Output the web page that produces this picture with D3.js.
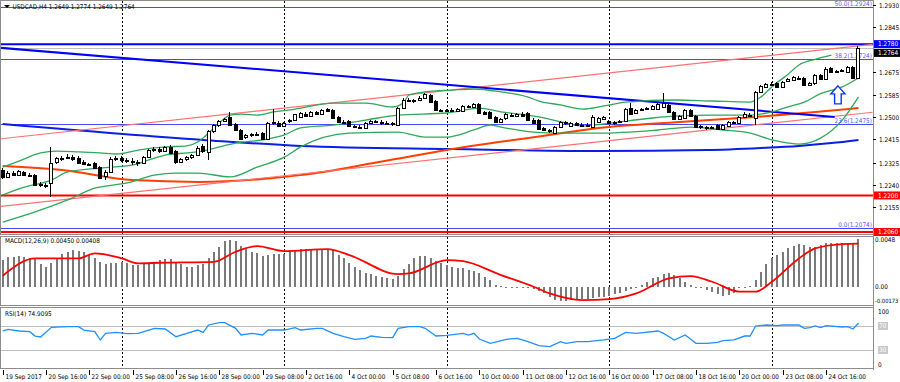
<!DOCTYPE html>
<html><head><meta charset="utf-8">
<script src="https://cdn.jsdelivr.net/npm/d3@7"></script>
<style>
html,body{margin:0;padding:0;background:#fff;}
svg{display:block;font-family:"DejaVu Sans Condensed","DejaVu Sans",sans-serif;}
</style></head><body>
<svg id="c" width="900" height="382"></svg>
<script>
// ---------------- DATA ----------------
const headerText = "USDCAD,H4  1.2649 1.2774 1.2649 1.2764";
const macdTitle = "MACD(12,26,9) 0.00450 0.00408";
const rsiTitle = "RSI(14) 74.9095";

const openP = [1.2298,1.2271,1.2286,1.2278,1.2290,1.2280,1.2278,1.2244,1.2242,1.2248,
 1.2330,1.2342,1.2345,1.2348,1.2344,1.2330,1.2320,1.2324,1.2309,1.2275,
 1.2290,1.2340,1.2344,1.2336,1.2334,1.2330,1.2324,1.2347,1.2374,1.2378,
 1.2372,1.2386,1.2370,1.2330,1.2338,1.2346,1.2355,1.2390,1.2366,1.2447,
 1.2470,1.2485,1.2501,1.2474,1.2451,1.2424,1.2430,1.2436,1.2438,1.2418,
 1.2478,1.2478,1.2468,1.2484,1.2490,1.2500,1.2512,1.2506,1.2518,1.2514,
 1.2530,1.2526,1.2499,1.2482,1.2486,1.2466,1.2464,1.2458,1.2478,1.2484,
 1.2482,1.2478,1.2476,1.2470,1.2535,1.2566,1.2562,1.2566,1.2574,1.2585,
 1.2562,1.2528,1.2524,1.2528,1.2524,1.2524,1.2543,1.2539,1.2551,1.2518,
 1.2520,1.2501,1.2482,1.2495,1.2510,1.2506,1.2514,1.2516,1.2491,1.2489,
 1.2458,1.2451,1.2441,1.2462,1.2480,1.2466,1.2476,1.2472,1.2468,1.2462,
 1.2482,1.2493,1.2486,1.2478,1.2480,1.2486,1.2537,1.2516,1.2528,1.2532,
 1.2530,1.2532,1.2539,1.2547,1.2520,1.2493,1.2497,1.2528,1.2505,1.2466,
 1.2462,1.2459,1.2470,1.2455,1.2468,1.2480,1.2478,1.2501,1.2510,1.2497,
 1.2597,1.2616,1.2628,1.2631,1.2616,1.2639,1.2643,1.2650,1.2650,1.2624,
 1.2631,1.2660,1.2645,1.2689,1.2676,1.2678,1.2673,1.2692,1.2649];
const highP = [1.2305,1.2292,1.2292,1.2298,1.2294,1.2286,1.2282,1.2250,1.2248,1.2386,
 1.2348,1.2352,1.2358,1.2354,1.2350,1.2336,1.2326,1.2328,1.2312,1.2296,
 1.2346,1.2352,1.2350,1.2342,1.2344,1.2336,1.2352,1.2378,1.2386,1.2384,
 1.2390,1.2392,1.2374,1.2342,1.2350,1.2360,1.2388,1.2396,1.2451,1.2474,
 1.2490,1.2497,1.2520,1.2478,1.2455,1.2436,1.2440,1.2442,1.2442,1.2482,
 1.2532,1.2484,1.2482,1.2494,1.2514,1.2520,1.2518,1.2522,1.2522,1.2532,
 1.2536,1.2530,1.2503,1.2488,1.2490,1.2472,1.2470,1.2480,1.2488,1.2490,
 1.2488,1.2484,1.2482,1.2540,1.2572,1.2572,1.2570,1.2580,1.2593,1.2590,
 1.2566,1.2532,1.2532,1.2534,1.2534,1.2548,1.2548,1.2556,1.2555,1.2524,
 1.2524,1.2505,1.2497,1.2516,1.2516,1.2516,1.2518,1.2520,1.2495,1.2493,
 1.2462,1.2456,1.2466,1.2486,1.2486,1.2482,1.2482,1.2478,1.2476,1.2509,
 1.2501,1.2505,1.2490,1.2484,1.2490,1.2536,1.2556,1.2532,1.2536,1.2540,
 1.2545,1.2555,1.2593,1.2551,1.2524,1.2509,1.2532,1.2532,1.2509,1.2470,
 1.2468,1.2468,1.2474,1.2474,1.2484,1.2486,1.2505,1.2518,1.2516,1.2601,
 1.2624,1.2632,1.2634,1.2635,1.2639,1.2651,1.2658,1.2658,1.2654,1.2635,
 1.2666,1.2666,1.2693,1.2693,1.2682,1.2684,1.2696,1.2697,1.2774];
const lowP = [1.2265,1.2266,1.2276,1.2274,1.2276,1.2272,1.2236,1.2232,1.2228,1.2194,
 1.2322,1.2334,1.2338,1.2334,1.2322,1.2316,1.2312,1.2300,1.2262,1.2258,
 1.2286,1.2334,1.2328,1.2326,1.2318,1.2314,1.2320,1.2344,1.2368,1.2364,
 1.2368,1.2360,1.2322,1.2324,1.2332,1.2340,1.2350,1.2364,1.2336,1.2440,
 1.2464,1.2480,1.2468,1.2447,1.2412,1.2418,1.2426,1.2428,1.2412,1.2414,
 1.2470,1.2462,1.2464,1.2478,1.2486,1.2496,1.2500,1.2502,1.2508,1.2510,
 1.2520,1.2493,1.2478,1.2476,1.2464,1.2458,1.2454,1.2454,1.2474,1.2476,
 1.2472,1.2470,1.2468,1.2466,1.2530,1.2558,1.2556,1.2562,1.2570,1.2555,
 1.2524,1.2518,1.2518,1.2518,1.2520,1.2520,1.2534,1.2535,1.2512,1.2510,
 1.2493,1.2478,1.2478,1.2491,1.2502,1.2502,1.2501,1.2485,1.2474,1.2451,
 1.2446,1.2440,1.2436,1.2458,1.2472,1.2462,1.2468,1.2464,1.2462,1.2458,
 1.2478,1.2488,1.2474,1.2472,1.2476,1.2482,1.2510,1.2512,1.2522,1.2526,
 1.2526,1.2528,1.2535,1.2516,1.2489,1.2489,1.2493,1.2501,1.2458,1.2455,
 1.2452,1.2454,1.2450,1.2450,1.2464,1.2474,1.2474,1.2497,1.2502,1.2470,
 1.2593,1.2612,1.2620,1.2612,1.2612,1.2635,1.2639,1.2646,1.2620,1.2620,
 1.2624,1.2643,1.2641,1.2670,1.2670,1.2672,1.2669,1.2645,1.2649];
const closeP = [1.2271,1.2286,1.2280,1.2292,1.2280,1.2278,1.2240,1.2240,1.2236,1.2324,
 1.2342,1.2345,1.2348,1.2340,1.2326,1.2320,1.2318,1.2305,1.2267,1.2290,
 1.2340,1.2344,1.2336,1.2334,1.2330,1.2325,1.2347,1.2374,1.2378,1.2372,
 1.2384,1.2364,1.2328,1.2338,1.2346,1.2355,1.2382,1.2370,1.2447,1.2470,
 1.2485,1.2493,1.2470,1.2451,1.2416,1.2432,1.2436,1.2434,1.2416,1.2478,
 1.2482,1.2466,1.2478,1.2490,1.2512,1.2516,1.2506,1.2518,1.2514,1.2528,
 1.2524,1.2497,1.2482,1.2480,1.2468,1.2464,1.2460,1.2476,1.2484,1.2482,
 1.2478,1.2476,1.2474,1.2535,1.2566,1.2562,1.2566,1.2574,1.2589,1.2559,
 1.2528,1.2522,1.2528,1.2524,1.2530,1.2543,1.2539,1.2551,1.2516,1.2514,
 1.2497,1.2482,1.2493,1.2512,1.2506,1.2512,1.2505,1.2489,1.2478,1.2455,
 1.2450,1.2449,1.2462,1.2482,1.2476,1.2478,1.2472,1.2470,1.2470,1.2501,
 1.2497,1.2501,1.2478,1.2480,1.2484,1.2532,1.2514,1.2528,1.2532,1.2535,
 1.2541,1.2551,1.2556,1.2520,1.2493,1.2505,1.2528,1.2505,1.2462,1.2462,
 1.2459,1.2462,1.2455,1.2470,1.2480,1.2482,1.2501,1.2514,1.2506,1.2597,
 1.2620,1.2628,1.2625,1.2616,1.2635,1.2647,1.2654,1.2652,1.2624,1.2631,
 1.2662,1.2647,1.2686,1.2674,1.2678,1.2679,1.2692,1.2649,1.2764];

// Bollinger bands (bar, price)
const bbUpper = [[0,1.2309],[3,1.2332],[7,1.2363],[10,1.2370],[14,1.2367],[18,1.2363],[21,1.2359],[25,1.2374],[30,1.2386],[34,1.2390],[36,1.2405],[38,1.2439],[40,1.2478],[42,1.2508],[44,1.2512],[47,1.2508],[50,1.2520],[53,1.2528],[55,1.2535],[61,1.2554],[67,1.2554],[72,1.2539],[74,1.2555],[75,1.2585],[78,1.2597],[83,1.2604],[87,1.2608],[92,1.2597],[97,1.2577],[99,1.2562],[103,1.2547],[107,1.2531],[111,1.2543],[115,1.2558],[124,1.2566],[131,1.2562],[138,1.2558],[140,1.2578],[142,1.2616],[145,1.2665],[147,1.2700],[150,1.2722],[153,1.2738]];
const bbMiddle = [[0,1.2202],[4,1.2232],[9,1.2259],[12,1.2290],[18,1.2305],[24,1.2317],[27,1.2336],[30,1.2355],[34,1.2363],[36,1.2367],[40,1.2386],[43,1.2401],[48,1.2413],[52,1.2432],[55,1.2459],[61,1.2470],[67,1.2489],[73,1.2508],[82,1.2516],[88,1.2535],[92,1.2520],[97,1.2508],[99,1.2501],[103,1.2482],[107,1.2466],[111,1.2474],[115,1.2485],[120,1.2497],[125,1.2505],[131,1.2508],[138,1.2508],[142,1.2520],[145,1.2540],[148,1.2558],[151,1.2590],[155,1.2616],[158,1.2650]];
const bbLower = [[0,1.2098],[6,1.2137],[12,1.2183],[17,1.2228],[23,1.2248],[28,1.2278],[32,1.2286],[36,1.2286],[42,1.2271],[47,1.2309],[52,1.2347],[55,1.2386],[64,1.2439],[73,1.2443],[78,1.2424],[82,1.2424],[87,1.2451],[90,1.2470],[92,1.2462],[98,1.2443],[103,1.2439],[110,1.2439],[121,1.2451],[127,1.2462],[133,1.2451],[138,1.2439],[142,1.2413],[145,1.2401],[147,1.2397],[151,1.2420],[155,1.2489],[158,1.2578]];
// long moving averages (bar, price)
const maOrange = [[0,1.2313],[11,1.2298],[24,1.2259],[36,1.2252],[55,1.2278],[70,1.2330],[83,1.2378],[99,1.2426],[110,1.2459],[125,1.2482],[139,1.2501],[158,1.2535]];
const maBlue = [[0,1.2474],[37,1.2413],[55,1.2390],[83,1.2378],[110,1.2370],[130,1.2374],[140,1.2382],[147,1.2390],[153,1.2401],[158,1.2413]];

// MACD histogram per bar and signal line samples
const macdMain = [0.00252,0.00277,0.00284,0.00293,0.00284,0.00274,0.00258,0.00214,0.00189,0.00227,
 0.00258,0.00306,0.00331,0.00343,0.00340,0.00331,0.00299,0.00274,0.00236,0.00214,
 0.00221,0.00227,0.00230,0.00227,0.00205,0.00205,0.00211,0.00227,0.00236,0.00252,
 0.00258,0.00258,0.00236,0.00211,0.00189,0.00189,0.00205,0.00211,0.00268,0.00324,
 0.00378,0.00432,0.00441,0.00432,0.00387,0.00356,0.00331,0.00315,0.00293,0.00299,
 0.00306,0.00306,0.00306,0.00347,0.00347,0.00353,0.00353,0.00353,0.00353,0.00353,
 0.00356,0.00347,0.00299,0.00268,0.00227,0.00189,0.00158,0.00132,0.00120,0.00104,
 0.00095,0.00079,0.00069,0.00101,0.00164,0.00211,0.00268,0.00290,0.00290,0.00268,
 0.00243,0.00221,0.00205,0.00189,0.00173,0.00173,0.00158,0.00151,0.00126,0.00088,
 0.00063,0.00016,0.00006,-0.00006,0.00000,-0.00006,-0.00009,-0.00016,-0.00025,-0.00041,
 -0.00063,-0.00095,-0.00126,-0.00135,-0.00132,-0.00126,-0.00117,-0.00117,-0.00117,-0.00110,
 -0.00101,-0.00095,-0.00088,-0.00072,-0.00057,-0.00038,-0.00022,-0.00003,0.00016,0.00047,
 0.00079,0.00095,0.00117,0.00126,0.00110,0.00079,0.00047,0.00016,0.00000,-0.00016,
 -0.00032,-0.00047,-0.00069,-0.00085,-0.00079,-0.00063,-0.00016,-0.00009,0.00006,0.00063,
 0.00142,0.00211,0.00268,0.00299,0.00331,0.00369,0.00387,0.00403,0.00394,0.00378,
 0.00378,0.00394,0.00410,0.00410,0.00410,0.00410,0.00403,0.00403,0.00450];
const macdSignal = [[0,0.00104],[6,0.00268],[14,0.00268],[17,0.00315],[22,0.00268],[25,0.00221],[29,0.00227],[39,0.00236],[43,0.00331],[47,0.00384],[52,0.00337],[60,0.00356],[64,0.00299],[73,0.00120],[75,0.00126],[82,0.00252],[85,0.00243],[92,0.00110],[98,0.00000],[101,-0.00063],[107,-0.00126],[112,-0.00117],[117,-0.00063],[123,0.00079],[127,0.00101],[131,0.00047],[136,-0.00047],[139,-0.00047],[142,0.00047],[147,0.00268],[150,0.00362],[155,0.00403],[158,0.00408]];
const rsiLine = [[0,61.7],[1,64.4],[3,61.7],[5,60.6],[6,53.3],[7,51.7],[9,67.8],[12,68.9],[14,68.9],[15,63.3],[17,60.6],[18,46.7],[19,57.8],[21,59.4],[23,57.2],[25,57.8],[27,63.3],[28,66.1],[30,65],[32,52.2],[34,57.8],[36,63.3],[37,59.4],[38,71.7],[40,75.6],[41,75.6],[43,66.1],[44,55],[46,57.8],[48,55],[49,63.3],[52,63.3],[54,67.2],[55,63.3],[58,66.1],[59,66.1],[61,57.8],[63,52.2],[65,47.8],[67,49.4],[68,53.3],[70,51.1],[72,50.6],[73,66.1],[75,68.9],[77,68.9],[78,66.1],[80,53.3],[82,54.5],[85,57.8],[86,55],[87,57.8],[88,48.3],[90,41.1],[93,47.8],[95,49.4],[97,43.9],[99,37.2],[101,35.6],[103,43.9],[104,41.1],[106,43.9],[108,43.9],[111,46.7],[112,48.3],[113,49.4],[115,59.4],[117,57.8],[121,61.7],[122,57.8],[124,46.7],[126,55],[128,41.1],[130,41.1],[132,42.8],[133,45.6],[135,46.7],[137,53.3],[138,53.3],[139,70],[141,71.7],[143,70.6],[144,71.7],[147,71.7],[148,66.1],[149,67.2],[150,70],[151,67.2],[152,70.6],[155,68.3],[156,68.9],[157,65],[158,74.9]];

// time axis
const timeLabels = ["19 Sep 2017","20 Sep 16:00","22 Sep 00:00","25 Sep 08:00","26 Sep 16:00","28 Sep 00:00","29 Sep 08:00","2 Oct 16:00","4 Oct 00:00","5 Oct 08:00","6 Oct 16:00","10 Oct 00:00","11 Oct 08:00","12 Oct 16:00","16 Oct 00:00","17 Oct 08:00","18 Oct 16:00","20 Oct 00:00","23 Oct 08:00","24 Oct 16:00"];
const timeLabelBars = [0,8,16,24,32,40,48,56,64,72,80,88,96,104,112,120,128,136,144,152];
const weekSeparatorBars = [22,52,82,112,142];
const priceTicks = [1.2930,1.2845,1.2675,1.2585,1.2500,1.2415,1.2325,1.2240,1.2155];
const macdTicks = [0.0048,0.00,-0.00173];
const macdTickLabels = ["0.0048","0.00","-0.00173"];
const rsiLevels = [70,30];

// objects
const fiboLevels = ["0.0","23.6","38.2","50.0"];
const fiboPrices = [1.2074,1.2475,1.2724,1.2924];
const hLinePrices = [1.2780,1.2200,1.2060];
const hLineColors = ["#0000ff","#ff0000","#ff0000"];
const bidPrice = 1.2764;
const blueTrend = [[-0.5,1.2766],[153.6,1.2501]];
const channelUpper = [[-0.5,1.2417],[160.6,1.2779]];
const channelLower = [[-0.5,1.2158],[160.6,1.2519]];
const arrowAnchor = [154.2,1.2620];

// ---------------- DRAW ----------------
const svg = d3.select("#c");
const AX = 873;
const FS = 6.4;
const x = d3.scaleLinear().domain([0,152]).range([2.7,826]);
const yP = d3.scaleLinear().domain([1.2060,1.2930]).range([232,5]);
const yM = d3.scaleLinear().domain([-0.00173,0.0048]).range([305,236]);
const yR = d3.scaleLinear().domain([0,100]).range([368,308]);
const panels = {main:[0,234],macd:[236,305],rsi:[307,368]};

svg.append("rect").attr("width",900).attr("height",382).attr("fill","#fff");
const defs = svg.append("defs");
Object.entries(panels).forEach(([k,[a,b]])=>{
  defs.append("clipPath").attr("id","clip-"+k).append("rect").attr("x",1).attr("y",a+1).attr("width",AX-1).attr("height",b-a-1);
});

// week separators
weekSeparatorBars.forEach(b=>{
  const xx = Math.round(x(b))+0.5;
  Object.values(panels).forEach(([a,bb])=>{
    svg.append("line").attr("x1",xx).attr("x2",xx).attr("y1",a+1).attr("y2",bb)
      .attr("stroke","#000").attr("stroke-width",1).attr("stroke-dasharray","2,2");
  });
});

const gMain = svg.append("g").attr("clip-path","url(#clip-main)");
const gMacd = svg.append("g").attr("clip-path","url(#clip-macd)");
const gRsi = svg.append("g").attr("clip-path","url(#clip-rsi)");

const lineBP = d3.line().x(d=>x(d[0])).y(d=>yP(d[1]));
const curveBP = d3.line().x(d=>x(d[0])).y(d=>yP(d[1])).curve(d3.curveMonotoneX);

// fibo levels
fiboPrices.forEach((p,i)=>{
  const yy = Math.round(yP(p))+0.5;
  gMain.append("line").attr("x1",0).attr("x2",AX).attr("y1",yy).attr("y2",yy).attr("stroke","#4848ff").attr("stroke-width",1);
});
// bid line
gMain.append("line").attr("x1",0).attr("x2",AX).attr("y1",Math.round(yP(bidPrice))+0.5).attr("y2",Math.round(yP(bidPrice))+0.5).attr("stroke","#c0c0c0");
// horizontal lines
hLinePrices.forEach((p,i)=>{
  gMain.append("line").attr("x1",0).attr("x2",AX).attr("y1",yP(p)).attr("y2",yP(p)).attr("stroke",hLineColors[i]).attr("stroke-width",2);
});
// MAs
gMain.append("path").datum(maBlue).attr("d",curveBP).attr("fill","none").attr("stroke","#0a1ee6").attr("stroke-width",2);
gMain.append("path").datum(maOrange).attr("d",curveBP).attr("fill","none").attr("stroke","#ff4000").attr("stroke-width",2);
// channel
[channelUpper,channelLower].forEach(c=>{
  gMain.append("path").datum(c).attr("d",lineBP).attr("fill","none").attr("stroke","#ff7070").attr("stroke-width",1.2);
});
// blue trendline
gMain.append("path").datum(blueTrend).attr("d",lineBP).attr("fill","none").attr("stroke","#0000ff").attr("stroke-width",2);
// Bollinger
[bbUpper,bbMiddle,bbLower].forEach(b=>{
  gMain.append("path").datum(b).attr("d",curveBP).attr("fill","none").attr("stroke","#2ea85a").attr("stroke-width",1.3);
});
// fibo labels
fiboPrices.forEach((p,i)=>{
  const yy = Math.round(yP(p))+0.5;
  gMain.append("text").attr("x",AX-1).attr("y",yy-1.5).attr("text-anchor","end").attr("font-size",FS).attr("fill","#5858ff")
    .text(fiboLevels[i]+"("+p.toFixed(4)+")");
});
// candles
const gC = gMain.append("g").attr("shape-rendering","crispEdges");
openP.forEach((o,i)=>{
  const c = closeP[i], h = highP[i], l = lowP[i];
  const cx = Math.round(x(i));
  const top = Math.round(yP(Math.max(o,c))), bot = Math.round(yP(Math.min(o,c)));
  const bh = Math.max(1, bot-top);
  gC.append("rect").attr("x",cx-1).attr("width",1).attr("y",Math.round(yP(h))).attr("height",Math.max(1,Math.round(yP(l))-Math.round(yP(h)))).attr("fill","#000");
  gC.append("rect").attr("x",cx-2).attr("width",4).attr("y",top).attr("height",bh+1).attr("fill","#000");
  if (c>o && bh>=2) gC.append("rect").attr("x",cx-1).attr("width",2).attr("y",top+1).attr("height",bh-1).attr("fill","#fff");
});
// arrow object
{
  const ax = x(arrowAnchor[0]), ay = yP(arrowAnchor[1]);
  const pts = [[0,0],[7,8],[3.3,8],[3.3,18],[-3.3,18],[-3.3,8],[-7,8]].map(p=>[ax+p[0],ay+p[1]]);
  gMain.append("path").attr("d","M"+pts.join("L")+"Z").attr("fill","#fff").attr("stroke","#1030ff").attr("stroke-width",1.4);
}

// MACD
const gH = gMacd.append("g").attr("shape-rendering","crispEdges");
macdMain.forEach((v,i)=>{
  const y0 = yM(0), y1 = yM(v);
  gH.append("rect").attr("x",Math.round(x(i))-1).attr("width",1.5)
    .attr("y",Math.min(y0,y1)).attr("height",Math.max(0.8,Math.abs(y1-y0))).attr("fill","#7a7a7a");
});
gMacd.append("path").datum(macdSignal).attr("d",d3.line().x(d=>x(d[0])).y(d=>yM(d[1])).curve(d3.curveMonotoneX))
  .attr("fill","none").attr("stroke","#ff0000").attr("stroke-width",1.8);
svg.append("text").attr("x",5).attr("y",243).attr("font-size",FS).attr("fill","#000").text(macdTitle);

// RSI
rsiLevels.forEach(l=>{
  gRsi.append("line").attr("x1",0).attr("x2",AX).attr("y1",Math.round(yR(l))+0.5).attr("y2",Math.round(yR(l))+0.5).attr("stroke","#bdbdbd");
});
gRsi.append("path").datum(rsiLine).attr("d",d3.line().x(d=>x(d[0])).y(d=>yR(d[1])))
  .attr("fill","none").attr("stroke","#1e90ff").attr("stroke-width",1.3);
svg.append("text").attr("x",5).attr("y",316).attr("font-size",FS).attr("fill","#000").text(rsiTitle);

// frames
const fr = svg.append("g").attr("shape-rendering","crispEdges").attr("stroke","#8c8c8c").attr("fill","none");
Object.values(panels).forEach(([a,b])=>{
  fr.append("rect").attr("x",0.5).attr("y",a+0.5).attr("width",AX).attr("height",b-a);
});
fr.append("line").attr("x1",AX+0.5).attr("x2",AX+0.5).attr("y1",0).attr("y2",370);

// price axis
const axT = svg.append("g").attr("font-size",FS).attr("fill","#000");
priceTicks.forEach(p=>{
  const yy = Math.round(yP(p))+0.5;
  svg.append("line").attr("x1",AX).attr("x2",AX+3).attr("y1",yy).attr("y2",yy).attr("stroke","#000");
  axT.append("text").attr("x",AX+6).attr("y",yy).attr("dy","0.35em").text(p.toFixed(4));
});
// price boxes
function box(yy,bg,fg,label){
  svg.append("rect").attr("x",AX+1).attr("y",yy-4).attr("width",26).attr("height",8).attr("fill",bg);
  svg.append("text").attr("x",AX+5).attr("y",yy).attr("dy","0.35em").attr("font-size",FS).attr("fill",fg).text(label);
}
box(yP(bidPrice)+4.6,"#000","#fff",bidPrice.toFixed(4));
hLinePrices.forEach((p,i)=>box(yP(p),hLineColors[i],"#fff",p.toFixed(4)));

// macd axis
macdTicks.forEach((v,i)=>{
  const yy = Math.min(Math.max(yM(v),240),301);
  axT.append("text").attr("x",AX+2).attr("y",yy).attr("dy","0.35em")
    .attr("font-size", macdTickLabels[i].length>6 ? 5.8 : FS).text(macdTickLabels[i]);
});
// rsi axis
axT.append("text").attr("x",AX+5).attr("y",yR(100)+3.5).attr("dy","0.35em").text("100");
axT.append("text").attr("x",AX+5).attr("y",yR(0)-3).attr("dy","0.35em").text("0");
rsiLevels.forEach(l=>{
  const yy = yR(l);
  svg.append("rect").attr("x",AX+5).attr("y",yy-4).attr("width",10).attr("height",8).attr("fill","#c8c8c8");
  svg.append("text").attr("x",AX+6).attr("y",yy).attr("dy","0.35em").attr("font-size",FS).attr("fill","#fff").text(l);
});

// time axis
timeLabels.forEach((t,i)=>{
  const xx = Math.round(x(timeLabelBars[i]))+0.5;
  svg.append("line").attr("x1",xx).attr("x2",xx).attr("y1",370).attr("y2",375).attr("stroke","#000");
  svg.append("text").attr("x",xx+2).attr("y",378.5).attr("font-size",FS).attr("fill","#000").text(t);
});

// header
svg.append("path").attr("d","M4,5L10,5L7,8Z").attr("fill","#000");
svg.append("text").attr("x",12.5).attr("y",8.5).attr("font-size",FS).attr("fill","#000").text(headerText);
</script>
</body></html>
